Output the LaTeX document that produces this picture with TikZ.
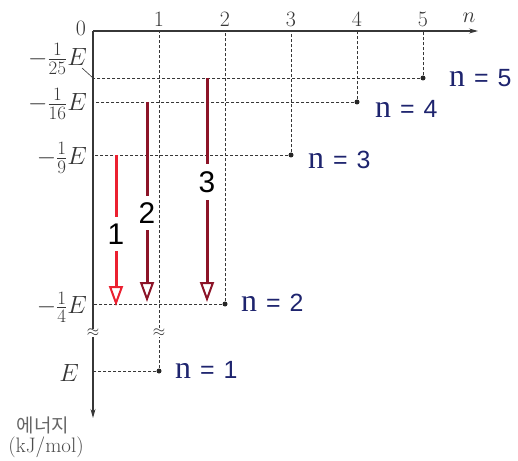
\documentclass[tikz,border=0pt]{standalone}
\usepackage{fix-cm}
\usepackage{fontspec}
\usetikzlibrary{arrows.meta}
\newfontfamily\sansf{Liberation Sans}
\newfontfamily\seriff{Liberation Serif}
\newfontfamily\krf{Noto Sans CJK KR}
\definecolor{navy}{RGB}{30,36,110}
\definecolor{brightred}{RGB}{235,32,48}
\definecolor{darkred}{RGB}{140,20,40}
\definecolor{axisgray}{RGB}{55,55,55}
\newcommand{\lvltext}[1]{{\fontsize{32}{32}\selectfont\seriff n}\hspace{9bp}=\hspace{9bp}#1}
\newcommand{\efr}[2]{\frac{\mbox{\fontsize{19}{19}\selectfont#1}}{\mbox{\fontsize{19}{19}\selectfont#2}}}
\begin{document}
\begin{tikzpicture}[x=1bp,y=-1bp,
 axisline/.style={line width=1.1bp, draw=axisgray, -{Stealth[length=9bp,width=5bp]}},
 guide/.style={draw=axisgray, line width=0.8bp, dash pattern=on 3bp off 2bp},
 dot/.style={circle, fill=black!85, inner sep=0pt, minimum size=5bp},
 lvl/.style={text=navy, font=\sansf\fontsize{25}{28}\selectfont, anchor=west, inner sep=0pt},
 tick/.style={font=\fontsize{22}{24}\selectfont, text=axisgray, inner sep=0pt},
 elabel/.style={font=\fontsize{25}{28}\selectfont, anchor=east, inner sep=0pt, text=axisgray},
 trans/.style={line width=3bp, -{Triangle[length=20bp,width=14bp,fill=white,line width=2bp]}},
 tlabel/.style={font=\sansf\fontsize{30}{32}\selectfont, fill=white, inner xsep=1bp, inner ysep=7bp},
 brk/.style={fill=white, inner sep=0pt, font=\fontsize{16}{16}\selectfont, text=axisgray}
]
\useasboundingbox (0,0) rectangle (518,461);
% axes
\coordinate (O) at (93,31);
\coordinate (Xend) at (478,31);
\coordinate (Yend) at (93,418);
% level points
\node[dot] (P5) at (423,78) {};
\node[dot] (P4) at (357,102) {};
\node[dot] (P3) at (291,155) {};
\node[dot] (P2) at (225,304) {};
\node[dot] (P1) at (159,371) {};
% guides
\foreach \p in {P1,P2,P3,P4,P5}{
  \draw[guide] (\p) -- (\p |- O);
  \draw[guide] (\p) -- (\p -| O);
}
\draw[axisline] (O) -- (Xend);
\draw[axisline] (O) -- (Yend);
% breaks
\node[brk] (b1) at (93,333) {$\approx$};
\node[brk] (b2) at (159,333) {$\approx$};
% tick labels
\node[tick] (t0) at (81,28) {0};
\node[tick] (t1) at (159,19) {1};
\node[tick] (t2) at (225,19) {2};
\node[tick] (t3) at (291,19) {3};
\node[tick] (t4) at (357,19) {4};
\node[tick] (t5) at (423,19) {5};
\node[tick] (tn) at (469,18) {$n$};
% energy labels
\node[elabel] (e25) at (87,59) {$-\efr{1}{25}E$};
\node[elabel] (e16) at (87,104) {$-\efr{1}{16}E$};
\node[elabel] (e9) at (87,158) {$-\efr{1}{9}E$};
\node[elabel] (e4) at (87,307) {$-\efr{1}{4}E$};
\node[elabel] (e1) at (79,373) {$E$};
\coordinate (lead) at (82,68);
\draw[axisgray, line width=0.6bp] (lead) -- (P5 -| O);
% axis title
\node[font=\krf\fontsize{19}{21}\selectfont, text=black!60, inner sep=0pt] (ktitle) at (43,425) {에너지};
\node[font=\fontsize{21}{23}\selectfont, text=black!70, inner sep=0pt] (unit) at (46,447) {(kJ/mol)};
% level labels
\node[lvl] (n5) at (449,78) {\lvltext{5}};
\node[lvl] (n4) at (375,109) {\lvltext{4}};
\node[lvl] (n3) at (308,160) {\lvltext{3}};
\node[lvl] (n2) at (241,303) {\lvltext{2}};
\node[lvl] (n1) at (175,370) {\lvltext{1}};
% transitions
\coordinate (a1s) at (116,155); \coordinate (a1e) at (116,306);
\coordinate (a2s) at (147,102); \coordinate (a2e) at (147,302);
\coordinate (a3s) at (207,78);  \coordinate (a3e) at (207,302);
\draw[trans, brightred] (a1s) -- (a1e);
\draw[trans, darkred] (a2s) -- (a2e);
\draw[trans, darkred] (a3s) -- (a3e);
\node[tlabel] (l1) at (116,234) {1};
\node[tlabel] (l2) at (147,213) {2};
\node[tlabel] (l3) at (207,182) {3};
\end{tikzpicture}
\end{document}
